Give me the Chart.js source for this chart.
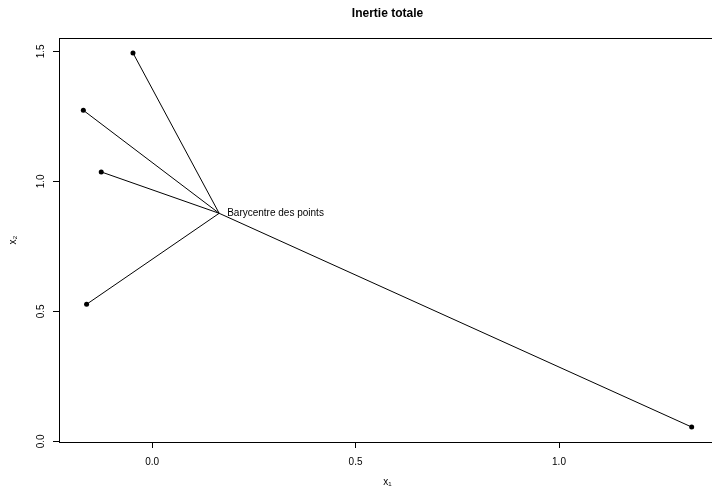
<!DOCTYPE html>
<html>
<head>
<meta charset="utf-8">
<script src="https://cdn.jsdelivr.net/npm/chart.js@4/dist/chart.umd.min.js"></script>
<style>
  html, body { margin: 0; padding: 0; overflow: hidden; background: #fff; }
  canvas { display: block; }
</style>
</head>
<body>
<canvas id="c" width="730" height="491"></canvas>
<script>
// Observations (x1, x2)
const pointsX = [-0.047, -0.169, -0.125, -0.161, 1.326];
const pointsY = [1.4935, 1.273, 1.036, 0.527, 0.055];

// Axis ticks and texts
const xTicks = [0, 0.5, 1];
const yTicks = [0, 0.5, 1, 1.5];
const chartTitle = 'Inertie totale';
const xTitle = 'x₁';
const yTitle = 'x₂';
const baryLabel = 'Barycentre des points';

const FONT = '"Liberation Sans", Arial, Helvetica, sans-serif';

// Centre of gravity of the cloud
const mean = a => a.reduce((s, v) => s + v, 0) / a.length;
const bary = { x: mean(pointsX), y: mean(pointsY) };

// Axis limits: data range extended by 4% on each side
const extend = a => {
  const lo = Math.min(...a), hi = Math.max(...a), d = (hi - lo) * 0.04;
  return [lo - d, hi + d];
};
const [xMin, xMax] = extend(pointsX);
const [yMin, yMax] = extend(pointsY);

// One segment from every point to the centre of gravity
const segments = pointsX.map((px, i) => ({
  type: 'scatter',
  data: [{ x: px, y: pointsY[i] }, { x: bary.x, y: bary.y }],
  showLine: true,
  borderColor: '#000',
  borderWidth: 1,
  pointRadius: 0,
  order: 2
}));

const cloud = {
  type: 'scatter',
  data: pointsX.map((px, i) => ({ x: px, y: pointsY[i] })),
  pointRadius: 2.5,
  pointBackgroundColor: '#000',
  pointBorderColor: '#000',
  pointBorderWidth: 0,
  showLine: false,
  order: 1
};

// Frame, main title and centre label
const decorations = {
  id: 'decorations',
  afterDraw(chart) {
    const { ctx, chartArea: a, scales: { x, y } } = chart;
    ctx.save();
    ctx.strokeStyle = '#000';
    ctx.lineWidth = 1;
    ctx.strokeRect(Math.round(a.left) + 0.5, Math.round(a.top) + 0.5,
                   Math.round(a.right - a.left), Math.round(a.bottom - a.top));
    ctx.fillStyle = '#000';
    ctx.font = 'bold 12px ' + FONT;
    ctx.textAlign = 'center';
    ctx.textBaseline = 'middle';
    ctx.fillText(chartTitle, (a.left + a.right) / 2, 13.5);
    ctx.font = '10px ' + FONT;
    ctx.textAlign = 'left';
    ctx.fillText(baryLabel, x.getPixelForValue(bary.x) + 8, y.getPixelForValue(bary.y));
    ctx.restore();
  }
};

new Chart(document.getElementById('c'), {
  type: 'scatter',
  data: { datasets: [...segments, cloud] },
  options: {
    responsive: false,
    animation: false,
    devicePixelRatio: 1,
    layout: { padding: { top: 38, right: 14, left: 0, bottom: 0 } },
    plugins: { legend: { display: false }, tooltip: { enabled: false }, title: { display: false } },
    scales: {
      x: {
        type: 'linear',
        min: xMin,
        max: xMax,
        afterBuildTicks: s => { s.ticks = xTicks.map(v => ({ value: v })); },
        afterFit: s => { s.height = 49; },
        border: { display: false },
        grid: { display: true, drawOnChartArea: false, drawTicks: true, tickLength: 6, color: '#000', lineWidth: 1 },
        ticks: {
          autoSkip: false, maxRotation: 0, padding: 8, color: '#000',
          font: { family: FONT, size: 10 },
          callback: v => Number(v).toFixed(1)
        },
        title: { display: true, text: xTitle, color: '#000', font: { family: FONT, size: 10 }, padding: { top: 0, bottom: 3 } }
      },
      y: {
        type: 'linear',
        min: yMin,
        max: yMax,
        afterBuildTicks: s => { s.ticks = yTicks.map(v => ({ value: v })); },
        afterFit: s => { s.width = 59; },
        border: { display: false },
        grid: { display: true, drawOnChartArea: false, drawTicks: true, tickLength: 6, color: '#000', lineWidth: 1 },
        ticks: {
          autoSkip: false, minRotation: 90, maxRotation: 90, crossAlign: 'center', padding: 5, color: '#000',
          font: { family: FONT, size: 10 },
          callback: v => Number(v).toFixed(1)
        },
        title: { display: true, text: yTitle, color: '#000', font: { family: FONT, size: 10 }, padding: { top: 7, bottom: 0 } }
      }
    }
  },
  plugins: [decorations]
});
</script>
</body>
</html>
